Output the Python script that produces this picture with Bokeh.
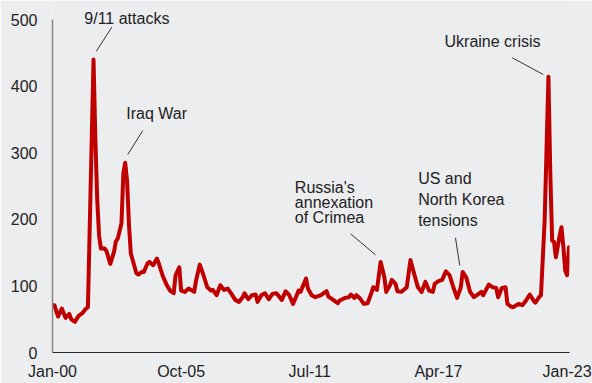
import re
from bokeh.plotting import figure
from bokeh.models import Range1d, FixedTicker, Label
from bokeh.embed import file_html
from bokeh.resources import INLINE

# ---- data (months since Jan-2000, index value) ----
months = [0, 1, 3, 5, 7, 9, 10, 12, 14, 16, 18, 19, 22, 23, 24, 25, 26, 28, 29, 31,
          33, 34, 35, 37, 38, 39, 40, 41, 42, 43, 45, 46, 48, 49, 51, 52, 54, 56, 57, 59,
          61, 63, 65, 66, 68, 69, 71, 73, 76, 77, 79, 81, 83, 85, 86, 88, 90, 92, 94, 96,
          98, 100, 102, 103, 105, 107, 109, 110, 112, 114, 116, 118, 120, 121, 123, 125, 127, 129, 131, 132,
          133, 136, 137, 139, 141, 144, 147, 148, 150, 153, 154, 157, 159, 160, 162, 163, 165, 167, 169, 171,
          172, 174, 176, 178, 179, 181, 182, 184, 185, 187, 188, 190, 192, 194, 196, 198, 200, 202, 204, 205,
          207, 209, 211, 213, 215, 217, 219, 220, 222, 224, 226, 228, 230, 231, 234, 236, 238, 239, 241, 243,
          244, 246, 247, 250, 252, 254, 256, 258, 259, 261, 262, 264, 266, 267, 268, 269, 270, 272, 273, 274,
          275, 276, 277]
gpr = [71, 71, 54, 66, 52, 58, 50, 46, 55, 59, 66, 68, 440, 320, 228, 175, 156, 156, 152, 133,
       151, 167, 171, 194, 269, 285, 258, 193, 149, 139, 119, 117, 121, 121, 134, 136, 131, 141, 134, 116,
       103, 93, 89, 116, 128, 93, 91, 96, 91, 108, 132, 116, 98, 93, 94, 86, 101, 94, 96, 88,
       79, 76, 83, 89, 80, 86, 87, 76, 86, 89, 80, 88, 89, 86, 79, 92, 86, 73, 86, 93,
       91, 111, 96, 86, 83, 86, 92, 84, 80, 74, 78, 82, 83, 87, 82, 86, 81, 73, 74, 89,
       98, 94, 136, 113, 91, 101, 109, 103, 92, 91, 93, 98, 139, 118, 98, 91, 106, 93, 91, 103,
       107, 109, 122, 116, 98, 82, 98, 121, 112, 91, 83, 87, 91, 86, 102, 98, 97, 83, 97, 98,
       73, 69, 68, 73, 71, 78, 87, 78, 75, 83, 86, 200, 414, 269, 168, 166, 143, 175, 188, 159,
       123, 116, 158]

x_ticks = [0, 69, 138, 207, 276]
x_tick_labels = ["Jan-00", "Oct-05", "Jul-11", "Apr-17", "Jan-23"]
y_ticks = [0, 100, 200, 300, 400, 500]
y_axis_max = 500

# ---- layout ----
W, H = 592, 383
LEFT, RIGHT, BOTTOM = 52, 23, 31
X_MAX = 277.3
KX = (W - LEFT - RIGHT) / X_MAX      # px per month
KY = 333 / y_axis_max                # px per index point (axis 0..500 spans 333 px)
Y_TOP = (H - BOTTOM) / KY            # frame reaches the top edge so labels are not clipped

BG = "#ECEDEF"
FONT = "Liberation Sans"
TXT = "#222222"

p = figure(width=W, height=H, x_range=Range1d(0, X_MAX), y_range=Range1d(0, Y_TOP),
           output_backend="svg", toolbar_location=None,
           min_border_left=LEFT, min_border_right=RIGHT,
           min_border_top=0, min_border_bottom=BOTTOM)
p.background_fill_color = BG
p.border_fill_color = BG
p.outline_line_color = None
p.xgrid.visible = False
p.ygrid.visible = False

p.line(months, gpr, line_color="#C00000", line_width=4, line_join="round", line_cap="round")

for ax in (p.xaxis[0], p.yaxis[0]):
    ax.major_tick_in = 0
    ax.major_tick_out = 0
    ax.minor_tick_in = 0
    ax.minor_tick_out = 0
    ax.major_label_text_font = FONT
    ax.major_label_text_font_size = "16px"
    ax.major_label_text_color = TXT

p.xaxis.ticker = FixedTicker(ticks=x_ticks)
p.xaxis.major_label_overrides = {t: l for t, l in zip(x_ticks, x_tick_labels)}
p.xaxis.axis_line_color = "#262626"
p.xaxis.axis_line_width = 1.2
p.xaxis.major_label_standoff = 10

p.yaxis.ticker = FixedTicker(ticks=y_ticks)
p.yaxis.bounds = (0, y_axis_max)
p.yaxis.axis_line_color = "#8a8a8a"
p.yaxis.axis_line_width = 1.5
p.yaxis.major_label_standoff = 15

# ---- annotations: anchored on the data peak inside a window, offsets in screen px ----
TEXT_SHIFT = -5.5
annotations = [
    dict(lo=15, hi=30, leader=((2.7, -8.0), (18.3, -32.3)), align="left",
         lines=[("9/11 attacks", -9.2, -35.7)]),
    dict(lo=30, hi=50, leader=((2.6, -8.2), (17.6, -32.2)), align="left",
         lines=[("Iraq War", 1.0, -43.2)]),
    dict(lo=170, hi=180, leader=((-5.1, -7.1), (-30.1, -28.1)), align="left",
         lines=[("Russia's", -85.8, -68.7), ("annexation", -85.8, -54.1), ("of Crimea", -85.8, -38.7)]),
    dict(lo=218, hi=222, leader=((-2.9, -6.4), (-7.2, -34.1)), align="left",
         lines=[("US and", -44.5, -88.1), ("North Korea", -44.5, -67.1), ("tensions", -44.5, -46.4)]),
    dict(lo=260, hi=270, leader=((-5.2, -2.3), (-36.2, -19.0)), align="right",
         lines=[("Ukraine crisis", -7.9, -29.6)]),
]

x0s, y0s, x1s, y1s = [], [], [], []
for a in annotations:
    cand = [(v, m) for m, v in zip(months, gpr) if a["lo"] <= m <= a["hi"]]
    pv, pm = max(cand)
    (dx0, dy0), (dx1, dy1) = a["leader"]
    x0s.append(pm + dx0 / KX); y0s.append(pv - dy0 / KY)
    x1s.append(pm + dx1 / KX); y1s.append(pv - dy1 / KY)
    for text, dx, dy in a["lines"]:
        p.add_layout(Label(x=pm + dx / KX, y=pv - (dy + TEXT_SHIFT) / KY, text=text,
                           text_font=FONT, text_font_size="16px", text_color=TXT,
                           text_align=a["align"], text_baseline="alphabetic"))

p.segment(x0=x0s, y0=y0s, x1=x1s, y1=y1s, line_color="#333333", line_width=1)

html = file_html(p, INLINE)
html = re.sub(r"<body[^>]*>", '<body style="margin:0;background-color:%s;overflow:hidden;">' % BG, html, count=1)
open("out.html", "w").write(html)
